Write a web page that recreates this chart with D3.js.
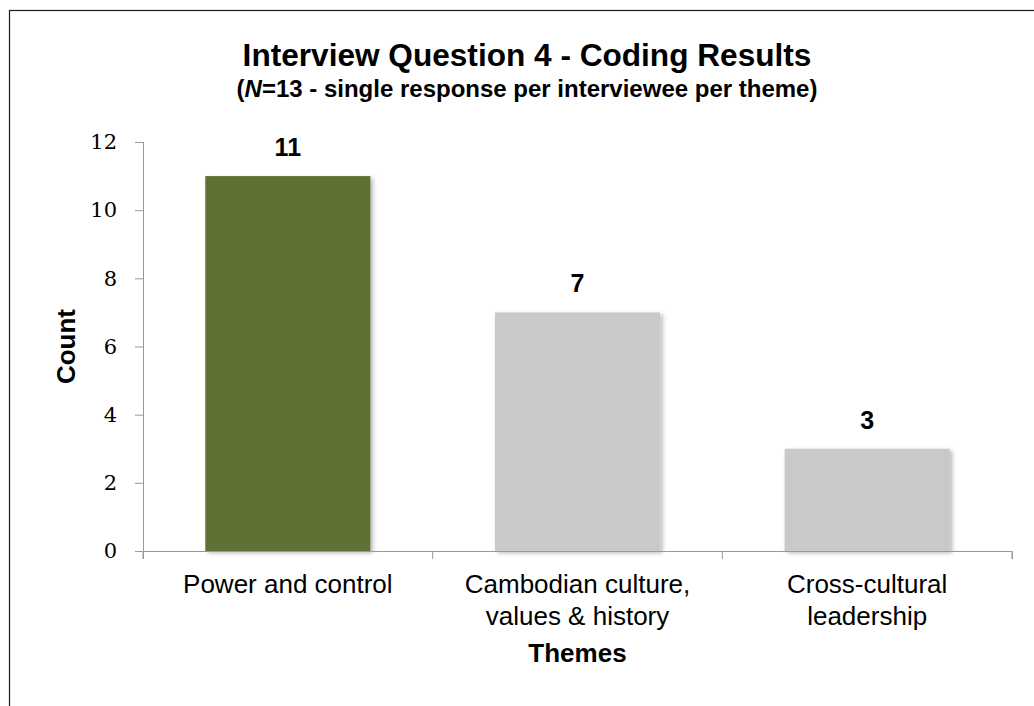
<!DOCTYPE html>
<html>
<head>
<meta charset="utf-8">
<script src="https://cdn.jsdelivr.net/npm/d3@7"></script>
<style>
  html, body { margin: 0; padding: 0; background: #fff; }
  svg { display: block; }
</style>
</head>
<body>
<div id="chart"></div>
<script>
// ---- data ----
const categories = ["Power and control", "Cambodian culture, values & history", "Cross-cultural leadership"];
const categoryLines = [["Power and control"], ["Cambodian culture,", "values & history"], ["Cross-cultural", "leadership"]];
const counts = [11, 7, 3];
const barColors = ["#5F7235", "#C9C9C9", "#C9C9C9"];
const yTicks = [0, 2, 4, 6, 8, 10, 12];
const titleText = "Interview Question 4 - Coding Results";
const xTitle = "Themes";
const yTitle = "Count";

// ---- layout ----
const W = 1034, H = 706;
const plot = { left: 143, right: 1012, top: 142, bottom: 551 };
const centerX = 527;

const svg = d3.select("#chart").append("svg").attr("width", W).attr("height", H);

const defs = svg.append("defs");
const f = defs.append("filter").attr("id", "shadow").attr("x", "-10%").attr("y", "-10%").attr("width", "130%").attr("height", "130%");
f.append("feDropShadow").attr("dx", 2.5).attr("dy", 2).attr("stdDeviation", 2).attr("flood-color", "#000").attr("flood-opacity", 0.28);

// border
svg.append("rect").attr("x", 9.5).attr("y", 10.5).attr("width", W + 20).attr("height", H + 20)
  .attr("fill", "none").attr("stroke", "#1a1a1a").attr("stroke-width", 1.2);

const x = d3.scaleBand().domain(categories).range([plot.left, plot.right]).paddingInner(0.43).paddingOuter(0.215);
const y = d3.scaleLinear().domain([0, 12]).range([plot.bottom, plot.top]);

// title
svg.append("text").attr("x", centerX).attr("y", 66).attr("text-anchor", "middle")
  .style("font-family", "'Liberation Sans', Arial, sans-serif").style("font-weight", "bold").style("font-size", "31.6px")
  .attr("fill", "#000").text(titleText);
const sub = svg.append("text").attr("x", centerX).attr("y", 97).attr("text-anchor", "middle")
  .style("font-family", "'Liberation Sans', Arial, sans-serif").style("font-weight", "bold").style("font-size", "24px")
  .attr("fill", "#000");
sub.append("tspan").text("(");
sub.append("tspan").style("font-style", "italic").text("N");
sub.append("tspan").text("=13 - single response per interviewee per theme)");

// bars
svg.append("g").selectAll("rect").data(counts).join("rect")
  .attr("x", (d, i) => x(categories[i]))
  .attr("y", d => y(d))
  .attr("width", x.bandwidth())
  .attr("height", d => y(0) - y(d))
  .attr("fill", (d, i) => barColors[i])
  .attr("filter", "url(#shadow)");

// value labels
svg.append("g").selectAll("text").data(counts).join("text")
  .attr("x", (d, i) => x(categories[i]) + x.bandwidth() / 2)
  .attr("y", d => y(d) - 20)
  .attr("text-anchor", "middle")
  .style("font-family", "'Liberation Sans', Arial, sans-serif").style("font-weight", "bold").style("font-size", "25px")
  .attr("fill", "#000")
  .text(d => d);

// y axis
const yAxis = svg.append("g").attr("transform", `translate(${plot.left},0)`)
  .call(d3.axisLeft(y).tickValues(yTicks).tickSize(8).tickPadding(18).tickFormat(d3.format("d")));
yAxis.select(".domain").attr("stroke", "#999").attr("d", `M0.5,${plot.top}V${plot.bottom}`);
yAxis.selectAll(".tick line").attr("stroke", "#999");
yAxis.selectAll(".tick text").style("font-family", "'DejaVu Serif', serif").style("font-size", "21px").attr("fill", "#000");

// x axis
const xAxis = svg.append("g").attr("transform", `translate(0,${plot.bottom})`)
  .call(d3.axisBottom(x).tickSizeInner(0).tickSizeOuter(8).tickFormat(""));
xAxis.select(".domain").attr("stroke", "#999");
xAxis.selectAll(".tick").remove();
const boundaries = d3.range(categories.length + 1).map(i => plot.left + i * x.step());
xAxis.selectAll("line.bnd").data(boundaries).join("line").attr("class", "bnd")
  .attr("x1", d => d).attr("x2", d => d).attr("y1", 0).attr("y2", 8).attr("stroke", "#999");

// category labels
const catG = svg.append("g");
categories.forEach((c, i) => {
  const t = catG.append("text").attr("text-anchor", "middle")
    .style("font-family", "'Liberation Sans', Arial, sans-serif").style("font-size", "26px").attr("fill", "#000");
  categoryLines[i].forEach((ln, j) => {
    t.append("tspan").attr("x", x(c) + x.bandwidth() / 2).attr("y", 593 + j * 32).text(ln);
  });
});

// axis titles
svg.append("text").attr("x", (plot.left + plot.right) / 2).attr("y", 662).attr("text-anchor", "middle")
  .style("font-family", "'Liberation Sans', Arial, sans-serif").style("font-weight", "bold").style("font-size", "26px")
  .attr("fill", "#000").text(xTitle);
svg.append("text").attr("transform", `translate(75,${(plot.top + plot.bottom) / 2}) rotate(-90)`).attr("text-anchor", "middle")
  .style("font-family", "'Liberation Sans', Arial, sans-serif").style("font-weight", "bold").style("font-size", "26px")
  .attr("fill", "#000").text(yTitle);
</script>
</body>
</html>
